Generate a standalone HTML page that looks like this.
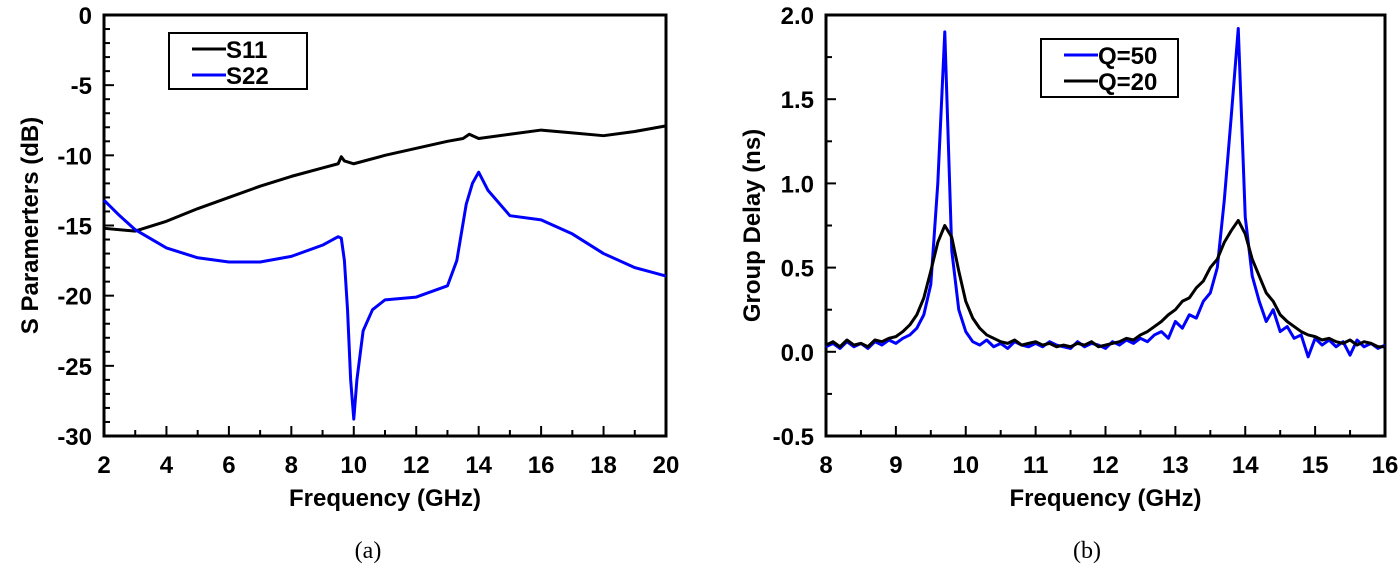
<!DOCTYPE html>
<html><head><meta charset="utf-8"><style>
html,body{margin:0;padding:0;background:#fff}
svg text{font-family:"Liberation Sans",Arial,sans-serif;font-weight:bold;fill:#000}
</style></head><body>
<svg id="svg" width="1400" height="572" viewBox="0 0 1400 572" xmlns="http://www.w3.org/2000/svg">
<g id="A"></g>
<g id="B"></g>
<text x="368" y="558" font-size="24" style="font-family:'Liberation Serif',serif;font-weight:normal" text-anchor="middle">(a)</text>
<text x="1087" y="558" font-size="24" style="font-family:'Liberation Serif',serif;font-weight:normal" text-anchor="middle">(b)</text>
</svg>
<script>
// Chart A data
const s11X=[2,3,4,5,6,7,8,9,9.5,9.6,9.7,10,11,12,13,13.5,13.7,14,15,16,17,18,19,20];
const s11Y=[-15.2,-15.4,-14.7,-13.8,-13.0,-12.2,-11.5,-10.9,-10.6,-10.1,-10.4,-10.6,-10.0,-9.5,-9.0,-8.8,-8.5,-8.8,-8.5,-8.2,-8.4,-8.6,-8.3,-7.9];
const s22X=[2,2.5,3,4,5,6,7,8,9,9.5,9.6,9.7,9.8,9.9,10.0,10.1,10.3,10.6,11,12,13,13.3,13.6,13.8,14.0,14.3,15,16,17,18,19,19.5,20];
const s22Y=[-13.2,-14.3,-15.3,-16.6,-17.3,-17.6,-17.6,-17.2,-16.4,-15.8,-15.9,-17.5,-21,-26,-28.8,-26,-22.5,-21,-20.3,-20.1,-19.3,-17.5,-13.5,-12.0,-11.2,-12.5,-14.3,-14.6,-15.6,-17.0,-18.0,-18.3,-18.6];
const aXTicks=[2,4,6,8,10,12,14,16,18,20];
const aYTicks=[0,-5,-10,-15,-20,-25,-30];
// Chart B data
const gdX=[8.0,8.1,8.2,8.3,8.4,8.5,8.6,8.7,8.8,8.9,9.0,9.1,9.2,9.3,9.4,9.5,9.6,9.7,9.8,9.9,10.0,10.1,10.2,10.3,10.4,10.5,10.6,10.7,10.8,10.9,11.0,11.1,11.2,11.3,11.4,11.5,11.6,11.7,11.8,11.9,12.0,12.1,12.2,12.3,12.4,12.5,12.6,12.7,12.8,12.9,13.0,13.1,13.2,13.3,13.4,13.5,13.6,13.7,13.8,13.9,14.0,14.1,14.2,14.3,14.4,14.5,14.6,14.7,14.8,14.9,15.0,15.1,15.2,15.3,15.4,15.5,15.6,15.7,15.8,15.9,16.0];
const q50Y=[.03,.05,.02,.06,.03,.05,.02,.06,.04,.07,.05,.08,.10,.14,.22,.40,1.0,1.9,.6,.25,.12,.06,.04,.07,.03,.05,.02,.06,.04,.03,.05,.03,.06,.04,.03,.02,.06,.03,.05,.04,.02,.06,.04,.07,.05,.08,.06,.10,.12,.08,.18,.14,.22,.20,.30,.35,.50,.90,1.4,1.92,.80,.45,.30,.18,.25,.12,.15,.08,.10,-.03,.08,.04,.07,.03,.06,-.02,.07,.03,.05,.02,.04];
const q20Y=[.04,.06,.03,.07,.04,.05,.03,.07,.06,.08,.09,.12,.16,.22,.32,.48,.65,.75,.68,.48,.30,.20,.14,.10,.08,.06,.05,.07,.04,.05,.06,.04,.05,.03,.04,.03,.05,.04,.06,.03,.04,.05,.06,.08,.07,.10,.12,.15,.18,.22,.25,.30,.32,.38,.42,.50,.55,.65,.72,.78,.70,.55,.45,.35,.30,.22,.18,.15,.12,.10,.09,.07,.08,.06,.05,.07,.04,.06,.05,.03,.03];
const bXTicks=[8,9,10,11,12,13,14,15,16];
const bYTicks=["2.0","1.5","1.0","0.5","0.0","-0.5"];

const NS='http://www.w3.org/2000/svg';
function mk(p,t,a){const e=document.createElementNS(NS,t);for(const k in a)e.setAttribute(k,a[k]);p.appendChild(e);return e;}
function axes(g,L,T,R,Bt,xs,ys,xv,yv,xminor,yminor,xt,yt){
  const fr=mk(g,'rect',{x:L,y:T,width:R-L,height:Bt-T,fill:'none',stroke:'#000','stroke-width':3});
  
  
  xminor.forEach(v=>{const l=mk(g,'line',{x1:xs(v),x2:xs(v),y1:Bt,y2:Bt-(xv.includes(v)?10:6),stroke:'#000','stroke-width':2});
    
    });
  yminor.forEach(v=>{const l=mk(g,'line',{x1:L,x2:L+(yv.map(Number).includes(v)?10:6),y1:ys(v),y2:ys(v),stroke:'#000','stroke-width':2});
    
    });
  xv.forEach(v=>{const t=mk(g,'text',{x:xs(v),y:Bt+37,'font-size':24,'text-anchor':'middle'});t.textContent=v;
    
    });
  yv.forEach(v=>{const t=mk(g,'text',{x:L-12,y:ys(Number(v))+9,'font-size':24,'text-anchor':'end'});t.textContent=v;
    
    });
  const x=mk(g,'text',{x:(L+R)/2,y:Bt+70,'font-size':24,'text-anchor':'middle'});x.textContent=xt;
  
  
  const y=mk(g,'text',{x:0,y:0,'font-size':24,'text-anchor':'middle',transform:`translate(${L-66},${(T+Bt)/2}) rotate(-90)`});y.textContent=yt;
  
  
}
function line(g,X,Y,xs,ys,c,w,name){
  const p=mk(g,'polyline',{points:X.map((v,i)=>xs(v)+','+ys(Y[i])).join(' '),fill:'none',stroke:c,'stroke-width':w,'stroke-linejoin':'round'});
  
  
}
function legend(g,x,y,w,h,items){
  const r=mk(g,'rect',{x:x,y:y,width:w,height:h,fill:'#fff',stroke:'#000','stroke-width':2});
  
  
  items.forEach((it,i)=>{const yy=y+16+i*26;
    mk(g,'line',{x1:x+23,x2:x+57,y1:yy,y2:yy,stroke:it[1],'stroke-width':3});
    const t=mk(g,'text',{x:x+57,y:yy+9,'font-size':24});t.textContent=it[0];
    
    });
}
// Chart A
const A=document.getElementById('A');
const aL=104,aR=666,aT=15,aB=436;
const axs=v=>aL+(v-2)/18*(aR-aL), ays=v=>aT+(0-v)/30*(aB-aT);
const aMinX=[];for(let v=2;v<=20;v+=1)aMinX.push(v);
const aMinY=[];for(let v=0;v>=-30;v-=1)aMinY.push(v);
axes(A,aL,aT,aR,aB,axs,ays,aXTicks,aYTicks,aMinX,aMinY,'Frequency (GHz)','S Paramerters (dB)');
line(A,s11X,s11Y,axs,ays,'#000',3,'s11-line');
line(A,s22X,s22Y,axs,ays,'#0000ff',3,'s22-line');
legend(A,169,33,138,56,[['S11','#000'],['S22','#0000ff']]);
// Chart B
const B=document.getElementById('B');
const bL=826,bR=1385,bT=15,bB=436;
const bxs=v=>bL+(v-8)/8*(bR-bL), bys=v=>bT+(2-v)/2.5*(bB-bT);
const bMinX=[];for(let v=8;v<=16.001;v+=0.5)bMinX.push(Math.round(v*10)/10);
const bMinY=[];for(let v=2;v>=-0.5;v-=0.25)bMinY.push(Math.round(v*100)/100);
axes(B,bL,bT,bR,bB,bxs,bys,bXTicks,bYTicks,bMinX,bMinY,'Frequency (GHz)','Group Delay (ns)');
line(B,gdX,q50Y,bxs,bys,'#0000ff',3,'q50-line');
line(B,gdX,q20Y,bxs,bys,'#000',3,'q20-line');
legend(B,1041,39,137,58,[['Q=50','#0000ff'],['Q=20','#000']]);
</script>
</body></html>
